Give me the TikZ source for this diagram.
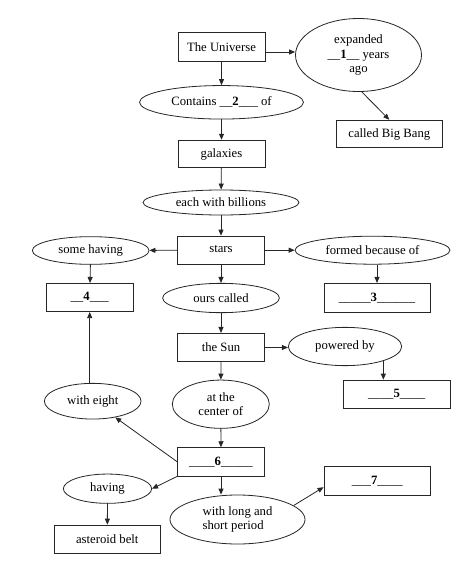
\documentclass[tikz,border=0pt]{standalone}
\usepackage{fontspec}
\setmainfont{Liberation Serif}
\usetikzlibrary{shapes.geometric,arrows.meta}
\begin{document}
\begin{tikzpicture}[x=1pt,y=-1pt,
  font=\fontsize{12.7}{14.5}\selectfont,
  box/.style={draw=black!85, rectangle, inner sep=0pt, line width=0.8pt, align=center},
  ov/.style={draw=black!85, ellipse, inner sep=0pt, line width=0.8pt, align=center},
  arr/.style={draw=black!85, -{Triangle[length=6pt,width=5pt]}, line width=0.8pt}]
\useasboundingbox[fill=white] (0,0) rectangle (463,575);

\node[box, minimum width=87pt, minimum height=29.5pt] (univ) at (221.5,47) {The Universe};
\node[ov, minimum width=126pt, minimum height=73pt] (exp) at (358.5,55) {expanded\\\_\_\textbf{1}\_\_ years\\ago};
\node[ov, minimum width=164pt, minimum height=33.5pt] (cont) at (221.5,102.3) {Contains \_\_\textbf{2}\_\_\_ of};
\node[box, minimum width=106.7pt, minimum height=27.7pt] (bb) at (389.3,134) {called Big Bang};
\node[box, minimum width=87pt, minimum height=27.7pt] (gal) at (221.5,154) {galaxies};
\node[ov, minimum width=156pt, minimum height=25pt] (each) at (221,202.5) {each with billions};
\node[box, minimum width=86.7pt, minimum height=28.3pt] (stars) at (221,250.2) {\raisebox{2pt}{stars}};
\node[ov, minimum width=116.7pt, minimum height=27.7pt] (some) at (90.7,250.5) {some having};
\node[ov, minimum width=155pt, minimum height=28pt] (formed) at (372.5,250.2) {formed because of};
\node[box, minimum width=87.3pt, minimum height=28.3pt] (four) at (89.7,297.5) {\_\_\textbf{4}\_\_\_};
\node[ov, minimum width=116.7pt, minimum height=29.3pt] (ours) at (221,298) {ours called};
\node[box, minimum width=106pt, minimum height=28.7pt] (three) at (377,297.7) {\_\_\_\_\_\textbf{3}\_\_\_\_\_\_};
\node[box, minimum width=86.7pt, minimum height=28.3pt] (sun) at (221,347.5) {\raisebox{1pt}{the Sun}};
\node[ov, minimum width=113.3pt, minimum height=38.3pt] (pow) at (345,346.5) {\raisebox{3pt}{powered by}};
\node[box, minimum width=106.7pt, minimum height=28.3pt] (five) at (396.7,394.2) {\_\_\_\_\textbf{5}\_\_\_\_};
\node[ov, minimum width=96.7pt, minimum height=35.7pt] (eight) at (92.7,401.2) {with eight};
\node[ov, minimum width=97pt, minimum height=48.3pt] (center) at (220.8,404.2) {at the\\center of};
\node[box, minimum width=86.7pt, minimum height=28.3pt] (six) at (221,461.8) {\_\_\_\_\textbf{6}\_\_\_\_\_};
\node[box, minimum width=106.7pt, minimum height=29pt] (seven) at (377.3,481.2) {\_\_\_\textbf{7}\_\_\_\_};
\node[ov, minimum width=88.3pt, minimum height=29.3pt] (having) at (107.5,488.7) {having};
\node[ov, minimum width=135pt, minimum height=49pt, align=left] (long) at (237.5,519.5) {with long and\\short period};
\node[box, minimum width=106.7pt, minimum height=28.3pt] (ast) at (107.3,539.2) {asteroid belt};

\draw[arr] (univ) -- (cont);
\draw[arr] ([yshift=-5pt]univ.east) -- ([yshift=-5pt]univ.east -| exp.west);
\draw[arr] (exp.-85) -- (bb.north);
\draw[arr] (cont) -- (gal);
\draw[arr] (gal) -- (each);
\draw[arr] (each) -- (stars);
\draw[arr] (stars) -- (some);
\draw[arr] (stars) -- (formed);
\draw[arr] (some) -- (four);
\draw[arr] (stars) -- (ours);
\draw[arr] (three.north |- formed.south) -- (three.north);
\draw[arr] (ours) -- (sun);
\draw[arr] (sun.east) -- (sun.east -| pow.west);
\draw[arr] ([xshift=-2pt]pow.south east) -- ([xshift=-2pt]pow.south east |- five.north);
\draw[arr] (four.south |- eight.north) -- (four.south);
\draw[arr] (sun) -- (center);
\draw[arr] (center) -- (six);
\draw[arr] (six.west) -- (eight);
\draw[arr] (six.south west) -- (having.east);
\draw[arr] (six.south) -- (six.south |- long.north);
\draw[arr] (long.14) -- ([yshift=-6pt]seven.west);
\draw[arr] (having) -- (ast);
\end{tikzpicture}
\end{document}
